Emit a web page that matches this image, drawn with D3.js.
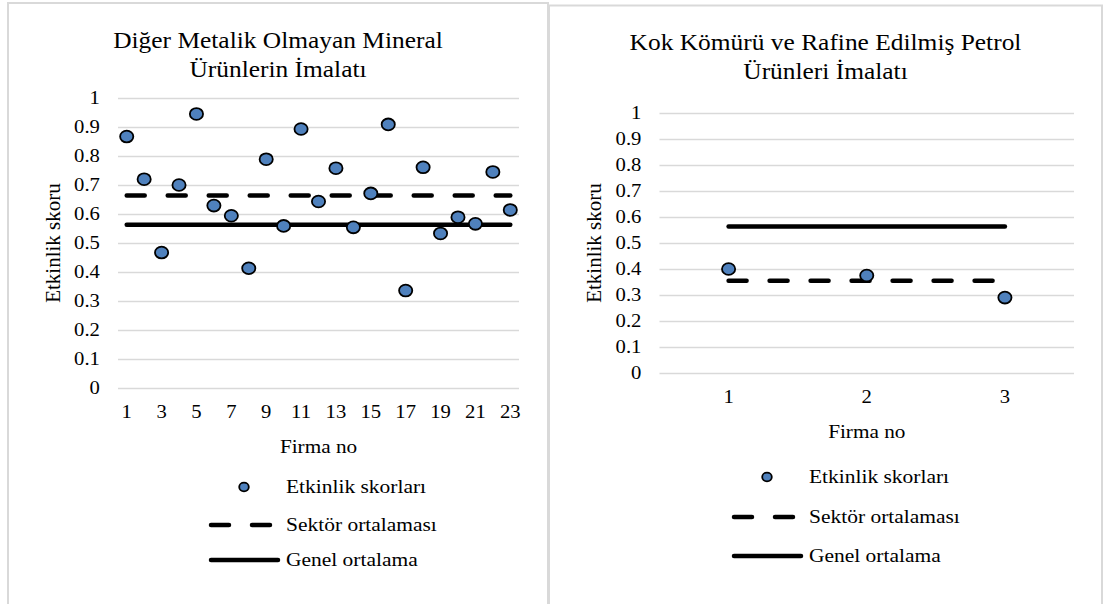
<!DOCTYPE html>
<html>
<head>
<meta charset="utf-8">
<script src="https://cdn.jsdelivr.net/npm/d3@7"></script>
<style>
  body { margin: 0; background: #fff; }
</style>
</head>
<body>
<script>
// Data
var leftFirms = [1, 2, 3, 4, 5, 6, 7, 8, 9, 10, 11, 12, 13, 14, 15, 16, 17, 18, 19, 20, 21, 22, 23];
var leftTickFirms = [1, 3, 5, 7, 9, 11, 13, 15, 17, 19, 21, 23];
var leftScores = [0.867, 0.72, 0.467, 0.70, 0.945, 0.629, 0.594, 0.413, 0.789, 0.559, 0.893, 0.643,
                  0.758, 0.554, 0.671, 0.909, 0.336, 0.761, 0.533, 0.589, 0.566, 0.745, 0.614];
var leftSectorAvg = 0.664;

var rightFirms = [1, 2, 3];
var rightScores = [0.40, 0.375, 0.29];
var rightSectorAvg = 0.355;

var generalAvg = 0.563;
var yTicks = [0, 0.1, 0.2, 0.3, 0.4, 0.5, 0.6, 0.7, 0.8, 0.9, 1];

var leftTitle = ["Diğer Metalik Olmayan Mineral", "Ürünlerin İmalatı"];
var rightTitle = ["Kok Kömürü ve Rafine Edilmiş Petrol", "Ürünleri İmalatı"];
var legendLabels = ["Etkinlik skorları", "Sektör ortalaması", "Genel ortalama"];

var width = 1105;
var height = 604;
var SX = 1.13; // the reference is slightly stretched sideways
var FONT = "'Liberation Serif', 'Times New Roman', serif";

var svg = d3.select("body")
  .append("svg")
  .attr("width", width)
  .attr("height", height)
  .style("font-family", FONT);

function label(g, x, y, txt, size, anchor, sx) {
  return g.append("text")
    .attr("transform", "translate(" + x + "," + y + ") scale(" + (sx || SX) + ",1)")
    .attr("text-anchor", anchor || "middle")
    .attr("font-family", FONT)
    .attr("font-size", size)
    .attr("fill", "#000")
    .text(txt);
}

function drawPanel(p) {
  var g = svg.append("g");

  // chart frame
  g.append("rect")
    .attr("x", p.box[0]).attr("y", p.box[1])
    .attr("width", p.box[2] - p.box[0]).attr("height", p.box[3] - p.box[1])
    .attr("fill", "none")
    .attr("stroke", "#d9d9d9")
    .attr("stroke-width", 2);

  var cx = (p.box[0] + p.box[2]) / 2;
  label(g, cx, p.titleY, p.title[0], 22.5);
  label(g, cx, p.titleY + 29, p.title[1], 22.5);

  var x = d3.scaleBand().domain(p.firms).range(p.xRange).padding(0);
  var y = d3.scaleLinear().domain([0, 1]).range(p.yRange);
  var xc = function(d) { return x(d) + x.bandwidth() / 2; };

  // gridlines + y tick labels
  var yAxis = d3.axisLeft(y)
    .tickValues(yTicks)
    .tickSize(-(p.xRange[1] - p.xRange[0]))
    .tickPadding(16)
    .tickFormat(function(d) { return d3.format("")(d); });
  var ya = g.append("g")
    .attr("transform", "translate(" + p.xRange[0] + ",0)")
    .call(yAxis)
    .attr("font-family", FONT)
    .attr("font-size", 18.3);
  ya.select(".domain").remove();
  ya.selectAll("line").attr("stroke", "#d9d9d9").attr("stroke-width", 1.5);
  ya.selectAll("text")
    .attr("transform", "scale(" + SX + ",1)")
    .attr("fill", "#000");

  // x tick labels
  var xAxis = d3.axisBottom(x)
    .tickValues(p.ticks)
    .tickSize(0)
    .tickPadding(p.xTickPad);
  var xa = g.append("g")
    .attr("transform", "translate(0," + p.yRange[0] + ")")
    .call(xAxis)
    .attr("font-family", FONT)
    .attr("font-size", 18.3);
  xa.select(".domain").remove();
  xa.selectAll("text")
    .attr("transform", "scale(" + SX + ",1)")
    .attr("fill", "#000");

  // average lines
  var first = p.firms[0], last = p.firms[p.firms.length - 1];
  g.append("line")
    .attr("x1", xc(first)).attr("x2", xc(last))
    .attr("y1", y(generalAvg)).attr("y2", y(generalAvg))
    .attr("stroke", "#000").attr("stroke-width", 4.5).attr("stroke-linecap", "round");
  g.append("line")
    .attr("x1", xc(first)).attr("x2", xc(last))
    .attr("y1", y(p.sectorAvg)).attr("y2", y(p.sectorAvg))
    .attr("stroke", "#000").attr("stroke-width", 4.5).attr("stroke-linecap", "round")
    .attr("stroke-dasharray", "18,23");

  // points
  g.selectAll("ellipse.pt")
    .data(p.scores)
    .enter()
    .append("ellipse")
    .attr("class", "pt")
    .attr("cx", function(d, i) { return xc(p.firms[i]); })
    .attr("cy", function(d) { return y(d); })
    .attr("rx", 6.6).attr("ry", 5.9)
    .attr("fill", "#4f81bd")
    .attr("stroke", "#000")
    .attr("stroke-width", 1.8);

  // axis titles
  label(g, (p.xRange[0] + p.xRange[1]) / 2, p.xTitleY, "Firma no", 18.8);
  g.append("text")
    .attr("transform", "translate(" + p.yTitleX + "," + ((p.yRange[0] + p.yRange[1]) / 2) + ") rotate(-90)")
    .attr("text-anchor", "middle")
    .attr("font-family", FONT)
    .attr("font-size", 21)
    .attr("fill", "#000")
    .text("Etkinlik skoru");

  // legend
  var lg = p.legend;
  g.append("ellipse")
    .attr("cx", lg.markX).attr("cy", lg.ys[0])
    .attr("rx", 4.8).attr("ry", 4.3)
    .attr("fill", "#4f81bd").attr("stroke", "#000").attr("stroke-width", 1.8);
  g.append("line")
    .attr("x1", lg.lineX[0]).attr("x2", lg.lineX[0] + 59)
    .attr("y1", lg.ys[1]).attr("y2", lg.ys[1])
    .attr("stroke", "#000").attr("stroke-width", 4.5).attr("stroke-linecap", "round")
    .attr("stroke-dasharray", "18,23");
  g.append("line")
    .attr("x1", lg.lineX[0]).attr("x2", lg.lineX[1])
    .attr("y1", lg.ys[2]).attr("y2", lg.ys[2])
    .attr("stroke", "#000").attr("stroke-width", 4.5).attr("stroke-linecap", "round");
  legendLabels.forEach(function(t, i) {
    label(g, lg.textX, lg.ys[i] + 6, t, 19, "start");
  });
}

drawPanel({
  box: [8, 3, 548, 620],
  title: leftTitle, titleY: 48,
  firms: leftFirms, ticks: leftTickFirms, scores: leftScores, sectorAvg: leftSectorAvg,
  xRange: [118, 519], yRange: [388, 98], xTickPad: 17,
  xTitleY: 453, yTitleX: 60,
  legend: { markX: 244, lineX: [211, 278], textX: 286, ys: [487, 525, 560] }
});

drawPanel({
  box: [549, 5.5, 1102, 620],
  title: rightTitle, titleY: 50,
  firms: rightFirms, ticks: rightFirms, scores: rightScores, sectorAvg: rightSectorAvg,
  xRange: [659.5, 1074], yRange: [373, 113], xTickPad: 17,
  xTitleY: 438, yTitleX: 601,
  legend: { markX: 767, lineX: [734, 801], textX: 809, ys: [477, 517, 556] }
});
</script>
</body>
</html>
